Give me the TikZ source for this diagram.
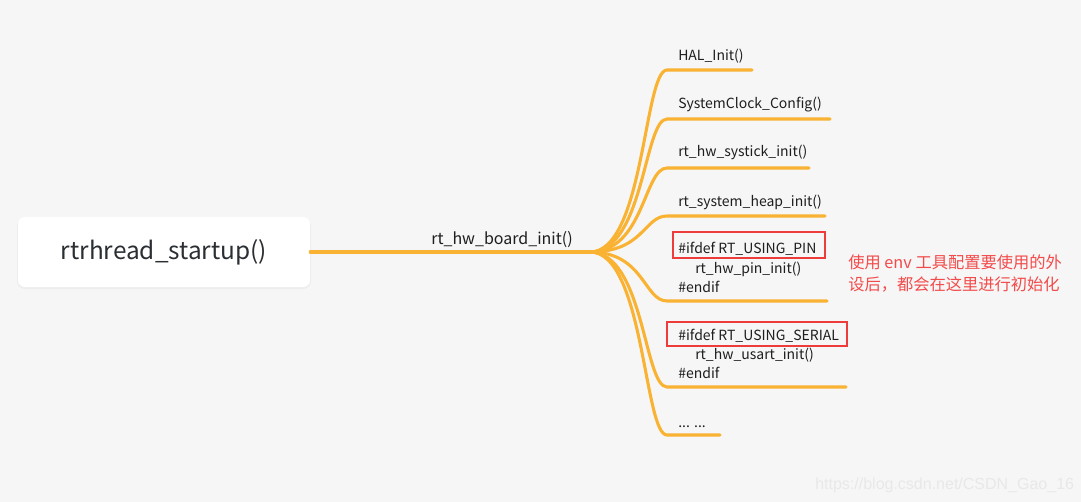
\documentclass[tikz,border=0pt]{standalone}
\usepackage{fontspec}
\setmainfont{Noto Sans CJK SC}
\newfontfamily\wmfont{Liberation Sans}
\definecolor{bgc}{HTML}{F6F6F6}
\definecolor{orangeline}{HTML}{F9B232}
\definecolor{redbox}{HTML}{EE3B3B}
\definecolor{redtext}{HTML}{F34A4A}
\definecolor{txt}{HTML}{1E1E1E}
\definecolor{roottxt}{HTML}{2B2F33}
\definecolor{wm}{HTML}{E8E8E8}
\tikzset{
  branch/.style={draw=orangeline, line width=2.3pt, line cap=round},
  rootbox/.style={fill=white, rounded corners=5pt, minimum width=219pt, minimum height=52.5pt, inner sep=0pt, text=roottxt, font=\fontsize{18.3}{20}\selectfont},
  leaf/.style={anchor=base west, inner sep=0pt, text=txt, font=\fontsize{10.5}{12}\selectfont},
  hublabel/.style={anchor=base, inner sep=0pt, text=txt, font=\fontsize{12}{14}\selectfont},
  flagbox/.style={draw=redbox, line width=0.8pt},
  note/.style={anchor=base west, inner sep=0pt, text=redtext, font=\fontsize{12.2}{14}\selectfont},
  watermark/.style={anchor=base west, inner sep=0pt, text=wm, font=\wmfont\fontsize{12}{14}\selectfont}
}
\begin{document}
\begin{tikzpicture}[x=0.75pt,y=-0.75pt]
\fill[bgc] (0,0) rectangle (1081,502);
\useasboundingbox (0,0) rectangle (1081,502);
% shadow of root box
\fill[black!7, rounded corners=6pt] (17,218) rectangle (311,289);
\node[rootbox] (root) at (164,252) {rtrhread\_startup()};
\coordinate (hub) at (590,252);
\draw[branch] (root.east) -- (hub);
\node[hublabel] (hubtext) at (502,245) {rt\_hw\_board\_init()};
% children
\foreach \i/\y/\e in {1/70/752, 2/119/830, 3/168/809, 4/216/825, 5/301/827, 6/387/846, 7/435/720}{
  \coordinate (s\i) at (667,\y);
  \coordinate (e\i) at (\e,\y);
  \draw[branch] (hub) .. controls (644,252) and (644,\y) .. (s\i) -- (e\i);
}
\node[leaf] (c1) at (678,61) {HAL\_Init()};
\node[leaf] (c2) at (678,109) {SystemClock\_Config()};
\node[leaf] (c3) at (678,157) {rt\_hw\_systick\_init()};
\node[leaf] (c4) at (678,207) {rt\_system\_heap\_init()};
\node[leaf] (c5a) at (678,254) {\#ifdef RT\_USING\_PIN};
\node[leaf] (c5b) at (695,273) {rt\_hw\_pin\_init()};
\node[leaf] (c5c) at (678,292) {\#endif};
\node[leaf] (c6a) at (678,340) {\#ifdef RT\_USING\_SERIAL};
\node[leaf] (c6b) at (695,359) {rt\_hw\_usart\_init()};
\node[leaf] (c6c) at (678,378) {\#endif};
\node[leaf] (c7) at (678,427) {... ...};
% red boxes
\draw[flagbox] (673,232) rectangle (825,258);
\draw[flagbox] (667,322) rectangle (847,346);
% annotation
\node[note] (n1) at (848,269) {使用 env 工具配置要使用的外};
\node[note] (n2) at (848,291) {设后，都会在这里进行初始化};
\node[watermark] (wmk) at (815,489) {https://blog.csdn.net/CSDN\_Gao\_16};
\end{tikzpicture}
\end{document}
